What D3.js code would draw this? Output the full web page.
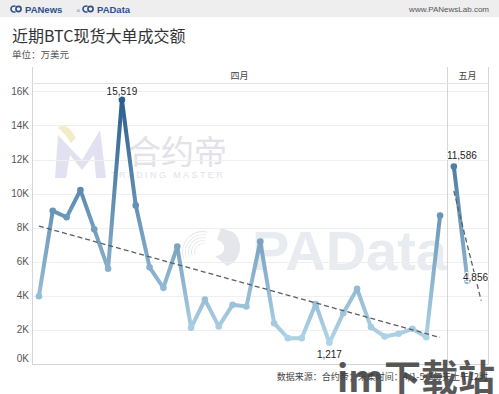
<!DOCTYPE html>
<meta charset="UTF-8">
<title>近期BTC现货大单成交额</title>
<style>
  body { margin: 0; background: #fff; }
  svg { display: block; font-family: "Liberation Sans", "Noto Sans CJK SC", sans-serif; }
  .cjk { font-family: "Noto Sans CJK SC", sans-serif; }
</style>
<script src="https://d3js.org/d3.v7.min.js"></script>
<body>
<script>
  // data: 万美元
  var aprDays = d3.range(1, 31).map(function(d) { return "4/" + d; });
  var aprValues = [3960, 8980, 8600, 10200, 7900, 5570, 15519, 9300, 5660, 4450,
                   6880, 2100, 3760, 2180, 3450, 3350, 7180, 2370, 1490, 1490,
                   3500, 1217, 2960, 4390, 2140, 1590, 1750, 2040, 1550, 8700];
  var mayDays = ["5/1", "5/2", "5/3"];
  var mayValues = [11586, 4856];
  var mayTrend = [10150, 3700];
  var yTicks = [0, 2000, 4000, 6000, 8000, 10000, 12000, 14000, 16000];
  var panes = ["四月", "五月"];
  var labelled = { "15519": "15,519", "1217": "1,217", "11586": "11,586", "4856": "4,856" };

  var W = 499, H = 394;
  var svg = d3.select("body").append("svg").attr("width", W).attr("height", H);
  var defs = svg.append("defs");

  // top band
  svg.append("rect").attr("x", 0).attr("y", 0).attr("width", W).attr("height", 17).attr("fill", "#eeeeee");
  function logo(x) {
    var g = svg.append("g").attr("transform", "translate(" + x + ",9)")
      .attr("fill", "none").attr("stroke", "#2d4f8e").attr("stroke-width", 1.6);
    g.append("path").attr("d", "M2.5,-2.6 A3,3 0 1 0 2.5,2.6");
    g.append("circle").attr("cx", 5.5).attr("cy", 0).attr("r", 2.6);
  }
  logo(13);
  logo(85);
  svg.append("text").attr("x", 25).attr("y", 12.5).attr("font-size", 9.5).attr("font-weight", "bold")
    .attr("fill", "#2d4f8e").text("PANews");
  svg.append("text").attr("x", 76).attr("y", 12.5).attr("font-size", 8).attr("fill", "#8a9ab8").text("×");
  svg.append("text").attr("x", 97).attr("y", 12.5).attr("font-size", 9.5).attr("font-weight", "bold")
    .attr("fill", "#2d4f8e").text("PAData");
  svg.append("text").attr("x", 489).attr("y", 12).attr("text-anchor", "end").attr("font-size", 8)
    .attr("fill", "#555").text("www.PANewsLab.com");

  // titles
  svg.append("text").attr("class", "cjk").attr("x", 12).attr("y", 42).attr("font-size", 16)
    .attr("fill", "#333").text("近期BTC现货大单成交额");
  svg.append("text").attr("class", "cjk").attr("x", 12).attr("y", 58).attr("font-size", 9.5)
    .attr("fill", "#555").text("单位：万美元");

  // layout
  var plotL = 32, plotSplit = 447, plotR = 488, plotT = 83, headT = 67, plotB = 363.5;
  var y = d3.scaleLinear().domain([0, 16500]).range([plotB, plotT]);
  var xApr = d3.scalePoint().domain(aprDays).range([plotL, plotSplit]).padding(0.5);
  var xMay = d3.scalePoint().domain(mayDays).range([plotSplit, plotR]).padding(0.5);

  // watermarks
  var wm = svg.append("g");
  wm.append("path").attr("d", "M55,178 L58,135 L72,150 L82,160 L100,130 L106,178 L96,178 L94,155 L82,170 L70,155 L66,178 Z")
    .attr("fill", "#d9d9ef").attr("opacity", 0.8);
  wm.append("path").attr("d", "M58,128 Q66,120 76,138 L71,143 Q64,132 58,128 Z").attr("fill", "#f3ecc8");
  wm.append("text").attr("class", "cjk").attr("x", 128).attr("y", 164).attr("font-size", 33)
    .attr("fill", "#e2e2e8").text("合约帝");
  wm.append("text").attr("x", 111).attr("y", 178).attr("font-size", 9).attr("letter-spacing", 2.4)
    .attr("fill", "#e2e2e8").text("TRADING MASTER");
  var arcG = wm.append("g").attr("transform", "translate(203,252)");
  [8, 11, 14, 17, 20].forEach(function(r) {
    arcG.append("path").attr("d", d3.arc()({ innerRadius: r, outerRadius: r + 0.8, startAngle: -1.9, endAngle: 0.2 }))
      .attr("fill", "#e4e6eb");
  });
  arcG.append("path").attr("d", "M18,-24 L30,-20 A20,20 0 0 1 24,14 L12,4 A8,8 0 0 0 14,-12 Z")
    .attr("fill", "#e4e6eb");
  wm.append("text").attr("x", 252).attr("y", 270).attr("font-size", 56).attr("font-weight", "bold")
    .attr("fill", "#e8ebef").text("PAData");

  // gridlines
  svg.append("g").selectAll("line").data(yTicks).join("line")
    .attr("x1", plotL).attr("x2", plotR)
    .attr("y1", function(d) { return Math.round(y(d)) + 0.5; })
    .attr("y2", function(d) { return Math.round(y(d)) + 0.5; })
    .attr("stroke", function(d) { return d === 0 ? "#d4d4d4" : "#efefef"; });

  // pane frames
  var fr = svg.append("g").attr("stroke", "#d6d6d6").attr("fill", "none");
  [plotL, plotSplit, plotR].forEach(function(x) {
    fr.append("line").attr("x1", x + 0.5).attr("x2", x + 0.5).attr("y1", headT).attr("y2", plotB + 1);
  });
  fr.append("line").attr("x1", plotL).attr("x2", plotR).attr("y1", plotT + 0.5).attr("y2", plotT + 0.5).attr("stroke", "#e4e4e4");
  svg.append("text").attr("class", "cjk").attr("x", (plotL + plotSplit) / 2).attr("y", 79).attr("text-anchor", "middle")
    .attr("font-size", 9).attr("fill", "#444").text(panes[0]);
  svg.append("text").attr("class", "cjk").attr("x", (plotSplit + plotR) / 2).attr("y", 79).attr("text-anchor", "middle")
    .attr("font-size", 9).attr("fill", "#444").text(panes[1]);

  // y axis
  var yAxis = svg.append("g").attr("transform", "translate(" + (plotL - 3) + ",0)")
    .call(d3.axisLeft(y).tickValues(yTicks).tickSize(0).tickPadding(0)
      .tickFormat(function(d) { return (d / 1000) + "K"; }));
  yAxis.select(".domain").remove();
  yAxis.selectAll("text").attr("font-size", 10).attr("fill", "#555").attr("font-family", "Liberation Sans, sans-serif")
    .attr("dy", function(d) { return d === 0 ? "-0.25em" : "0.32em"; });

  // colour by value
  var color = d3.scaleLinear().domain([1217, 15519]).range(["#b0d4e7", "#2b5e8f"]).interpolate(d3.interpolateRgb);

  function drawSeries(days, values, x, id) {
    var pts = values.map(function(v, i) { return { x: x(days[i]), y: y(v), v: v }; });
    var g = svg.append("g");
    for (var i = 0; i < pts.length - 1; i++) {
      var a = pts[i], b = pts[i + 1];
      var gid = id + i;
      var lg = defs.append("linearGradient").attr("id", gid).attr("gradientUnits", "userSpaceOnUse")
        .attr("x1", a.x).attr("y1", a.y).attr("x2", b.x).attr("y2", b.y);
      lg.append("stop").attr("offset", 0).attr("stop-color", color(a.v));
      lg.append("stop").attr("offset", 1).attr("stop-color", color(b.v));
      g.append("line").attr("x1", a.x).attr("y1", a.y).attr("x2", b.x).attr("y2", b.y)
        .attr("stroke", "url(#" + gid + ")").attr("stroke-width", 4).attr("stroke-linecap", "round");
    }
    g.selectAll("circle").data(pts).join("circle")
      .attr("cx", function(d) { return d.x; }).attr("cy", function(d) { return d.y; })
      .attr("r", 3.3).attr("fill", function(d) { return color(d.v); });
    return pts;
  }

  var aprPts = drawSeries(aprDays, aprValues, xApr, "ga");
  var mayPts = drawSeries(mayDays, mayValues, xMay, "gm");

  // April trend (least squares)
  var n = aprValues.length, mx = (n - 1) / 2, my = d3.mean(aprValues);
  var sxy = d3.sum(aprValues, function(v, i) { return (i - mx) * (v - my); });
  var sxx = d3.sum(aprValues, function(v, i) { return (i - mx) * (i - mx); });
  var slope = sxy / sxx, icpt = my - slope * mx;
  svg.append("line")
    .attr("x1", xApr(aprDays[0])).attr("y1", y(icpt))
    .attr("x2", xApr(aprDays[n - 1])).attr("y2", y(icpt + slope * (n - 1)))
    .attr("stroke", "#5a5f66").attr("stroke-width", 1.3).attr("stroke-dasharray", "5,3");
  svg.append("line")
    .attr("x1", xMay(mayDays[0])).attr("y1", y(mayTrend[0]))
    .attr("x2", xMay(mayDays[2])).attr("y2", y(mayTrend[1]))
    .attr("stroke", "#5a5f66").attr("stroke-width", 1.3).attr("stroke-dasharray", "5,3");

  // value labels
  function lbl(p, dx, dy) {
    svg.append("text").attr("x", p.x + dx).attr("y", p.y + dy).attr("text-anchor", "middle")
      .attr("font-size", 10).attr("fill", "#222").attr("stroke", "#fff").attr("stroke-width", 2)
      .attr("paint-order", "stroke").text(labelled[p.v]);
  }
  lbl(aprPts[6], 0, -5);
  lbl(aprPts[21], 0, 15);
  lbl(mayPts[0], 8, -8);
  lbl(mayPts[1], 8, 0);

  // footer
  svg.append("text").attr("class", "cjk").attr("x", 488).attr("y", 380).attr("text-anchor", "end")
    .attr("font-size", 9).attr("fill", "#444").text("数据来源：合约帝；采集时间：4/1-5/3每天上午12时");

  // site watermark
  svg.append("text").attr("class", "cjk").attr("x", 337).attr("y", 392).attr("font-size", 37)
    .attr("font-weight", "bold").attr("fill", "#3c3c3c").attr("opacity", 0.85).text("im下载站");
</script>
</body>
